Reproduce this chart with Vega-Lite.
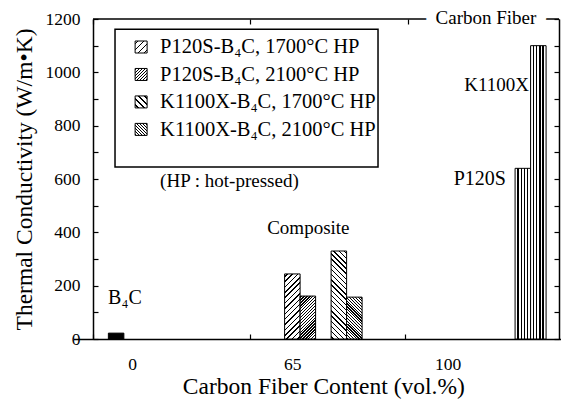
{
  "$schema": "https://vega.github.io/schema/vega-lite/v6.json",
  "width": 466,
  "height": 320,
  "autosize": {"type": "none"},
  "padding": {"left": 93, "top": 19, "right": 2, "bottom": 60},
  "background": "white",
  "config": {
    "view": {"stroke": null},
    "font": "Liberation Serif",
    "axis": {"domainColor": "black", "domainWidth": 1.5, "tickColor": "black", "tickWidth": 1.2, "labelColor": "black", "titleColor": "black", "labelFont": "Liberation Serif", "titleFont": "Liberation Serif", "titleFontWeight": "normal", "grid": false},
    "text": {"font": "Liberation Serif", "color": "black"}
  },
  "data": {"values": [
    {"content": "0", "sample": "B4C", "value": 22},
    {"content": "65", "sample": "P120S-B4C 1700", "value": 244},
    {"content": "65", "sample": "P120S-B4C 2100", "value": 161},
    {"content": "65", "sample": "K1100X-B4C 1700", "value": 330},
    {"content": "65", "sample": "K1100X-B4C 2100", "value": 157},
    {"content": "100", "sample": "P120S", "value": 640},
    {"content": "100", "sample": "K1100X", "value": 1100}
  ]},
  "resolve": {"axis": {"y": "independent", "x": "independent"}},
  "layer": [
    {
      "data": {"values": [{}]},
      "mark": {"type": "rule", "color": "black", "strokeWidth": 1.5},
      "encoding": {
        "y": {"datum": 1200, "type": "quantitative", "scale": {"domain": [0, 1200]},
          "axis": {"orient": "right", "values": [0,100,200,300,400,500,600,700,800,900,1000,1100,1200], "labels": false, "tickSize": -5, "title": null, "domain": true}}
      }
    },
    {
      "transform": [{"filter": "datum.sample == 'B4C'"}],
      "mark": {"type": "bar", "width": 15.5, "fill": "black", "stroke": "black", "strokeWidth": 1},
      "encoding": {
        "x": {"field": "content", "type": "nominal",
          "scale": {"domain": ["0", "65", "100"], "range": [-19.5, 480.2], "paddingInner": 0.5887, "paddingOuter": 0},
          "axis": {"orient": "bottom", "title": "Carbon Fiber Content (vol.%)", "titleFontSize": 23.5, "labelFontSize": 17.5, "labelAngle": 0, "ticks": true, "tickSize": -5, "labelPadding": 21, "titlePadding": 2,
            "tickOffset": {"expr": "datum.value == '0' ? -23 : datum.value == '65' ? -73.4 : -125.6"},
            "labelOffset": {"condition": [{"test": "datum.value == '0'", "value": 39}, {"test": "datum.value == '65'", "value": 42.4}], "value": 42.6}}},
        "xOffset": {"field": "sample", "type": "nominal",
          "scale": {"domain": ["s0", "P120S-B4C 1700", "s2", "P120S-B4C 2100", "P120S", "B4C", "K1100X", "K1100X-B4C 1700", "s8", "K1100X-B4C 2100", "s10"], "paddingInner": 0, "paddingOuter": 0}},
        "y": {"field": "value", "type": "quantitative", "scale": {"domain": [0, 1200]},
          "axis": {"orient": "left", "values": [0,100,200,300,400,500,600,700,800,900,1000,1100,1200], "format": "d", "labelExpr": "datum.value % 200 == 0 ? datum.label : ''", "tickSize": -5, "labelPadding": 18, "labelFontSize": 17.5, "labelOverlap": false, "title": "Thermal Conductivity (W/m•K)", "titleFontSize": 23.5, "titlePadding": 9}}
      }
    },
    {
      "transform": [{"filter": "datum.sample == 'P120S-B4C 1700'"}],
      "mark": {"type": "bar", "width": 15.5, "stroke": "black", "strokeWidth": 1,
        "fill": {"gradient": "linear", "x1": 0, "y1": 0, "x2": 0.279, "y2": 1.172, "stops": [
          {"offset": 0, "color": "#fff"},
          {"offset": 0.024, "color": "#fff"}, {"offset": 0.024, "color": "#000"}, {"offset": 0.043, "color": "#000"}, {"offset": 0.043, "color": "#fff"},
          {"offset": 0.091, "color": "#fff"}, {"offset": 0.091, "color": "#000"}, {"offset": 0.109, "color": "#000"}, {"offset": 0.109, "color": "#fff"},
          {"offset": 0.157, "color": "#fff"}, {"offset": 0.157, "color": "#000"}, {"offset": 0.176, "color": "#000"}, {"offset": 0.176, "color": "#fff"},
          {"offset": 0.224, "color": "#fff"}, {"offset": 0.224, "color": "#000"}, {"offset": 0.243, "color": "#000"}, {"offset": 0.243, "color": "#fff"},
          {"offset": 0.291, "color": "#fff"}, {"offset": 0.291, "color": "#000"}, {"offset": 0.309, "color": "#000"}, {"offset": 0.309, "color": "#fff"},
          {"offset": 0.357, "color": "#fff"}, {"offset": 0.357, "color": "#000"}, {"offset": 0.376, "color": "#000"}, {"offset": 0.376, "color": "#fff"},
          {"offset": 0.424, "color": "#fff"}, {"offset": 0.424, "color": "#000"}, {"offset": 0.443, "color": "#000"}, {"offset": 0.443, "color": "#fff"},
          {"offset": 0.491, "color": "#fff"}, {"offset": 0.491, "color": "#000"}, {"offset": 0.509, "color": "#000"}, {"offset": 0.509, "color": "#fff"},
          {"offset": 0.557, "color": "#fff"}, {"offset": 0.557, "color": "#000"}, {"offset": 0.576, "color": "#000"}, {"offset": 0.576, "color": "#fff"},
          {"offset": 0.624, "color": "#fff"}, {"offset": 0.624, "color": "#000"}, {"offset": 0.643, "color": "#000"}, {"offset": 0.643, "color": "#fff"},
          {"offset": 0.691, "color": "#fff"}, {"offset": 0.691, "color": "#000"}, {"offset": 0.709, "color": "#000"}, {"offset": 0.709, "color": "#fff"},
          {"offset": 0.757, "color": "#fff"}, {"offset": 0.757, "color": "#000"}, {"offset": 0.776, "color": "#000"}, {"offset": 0.776, "color": "#fff"},
          {"offset": 0.824, "color": "#fff"}, {"offset": 0.824, "color": "#000"}, {"offset": 0.843, "color": "#000"}, {"offset": 0.843, "color": "#fff"},
          {"offset": 0.891, "color": "#fff"}, {"offset": 0.891, "color": "#000"}, {"offset": 0.909, "color": "#000"}, {"offset": 0.909, "color": "#fff"},
          {"offset": 0.957, "color": "#fff"}, {"offset": 0.957, "color": "#000"}, {"offset": 0.976, "color": "#000"}, {"offset": 0.976, "color": "#fff"},
          {"offset": 1, "color": "#fff"}]}},
      "encoding": {
        "x": {"field": "content", "type": "nominal", "axis": null},
        "xOffset": {"field": "sample", "type": "nominal"},
        "y": {"field": "value", "type": "quantitative", "axis": null}
      }
    },
    {
      "transform": [{"filter": "datum.sample == 'P120S-B4C 2100'"}],
      "mark": {"type": "bar", "width": 15.5, "stroke": "black", "strokeWidth": 1,
        "fill": {"gradient": "linear", "x1": 0, "y1": 0, "x2": 0.435, "y2": 1.204, "stops": [
          {"offset": 0, "color": "#fff"},
          {"offset": 0.014, "color": "#fff"}, {"offset": 0.014, "color": "#000"}, {"offset": 0.036, "color": "#000"}, {"offset": 0.036, "color": "#fff"},
          {"offset": 0.064, "color": "#fff"}, {"offset": 0.064, "color": "#000"}, {"offset": 0.086, "color": "#000"}, {"offset": 0.086, "color": "#fff"},
          {"offset": 0.114, "color": "#fff"}, {"offset": 0.114, "color": "#000"}, {"offset": 0.136, "color": "#000"}, {"offset": 0.136, "color": "#fff"},
          {"offset": 0.164, "color": "#fff"}, {"offset": 0.164, "color": "#000"}, {"offset": 0.186, "color": "#000"}, {"offset": 0.186, "color": "#fff"},
          {"offset": 0.214, "color": "#fff"}, {"offset": 0.214, "color": "#000"}, {"offset": 0.236, "color": "#000"}, {"offset": 0.236, "color": "#fff"},
          {"offset": 0.264, "color": "#fff"}, {"offset": 0.264, "color": "#000"}, {"offset": 0.286, "color": "#000"}, {"offset": 0.286, "color": "#fff"},
          {"offset": 0.314, "color": "#fff"}, {"offset": 0.314, "color": "#000"}, {"offset": 0.336, "color": "#000"}, {"offset": 0.336, "color": "#fff"},
          {"offset": 0.364, "color": "#fff"}, {"offset": 0.364, "color": "#000"}, {"offset": 0.386, "color": "#000"}, {"offset": 0.386, "color": "#fff"},
          {"offset": 0.414, "color": "#fff"}, {"offset": 0.414, "color": "#000"}, {"offset": 0.436, "color": "#000"}, {"offset": 0.436, "color": "#fff"},
          {"offset": 0.464, "color": "#fff"}, {"offset": 0.464, "color": "#000"}, {"offset": 0.486, "color": "#000"}, {"offset": 0.486, "color": "#fff"},
          {"offset": 0.514, "color": "#fff"}, {"offset": 0.514, "color": "#000"}, {"offset": 0.536, "color": "#000"}, {"offset": 0.536, "color": "#fff"},
          {"offset": 0.564, "color": "#fff"}, {"offset": 0.564, "color": "#000"}, {"offset": 0.586, "color": "#000"}, {"offset": 0.586, "color": "#fff"},
          {"offset": 0.614, "color": "#fff"}, {"offset": 0.614, "color": "#000"}, {"offset": 0.636, "color": "#000"}, {"offset": 0.636, "color": "#fff"},
          {"offset": 0.664, "color": "#fff"}, {"offset": 0.664, "color": "#000"}, {"offset": 0.686, "color": "#000"}, {"offset": 0.686, "color": "#fff"},
          {"offset": 0.714, "color": "#fff"}, {"offset": 0.714, "color": "#000"}, {"offset": 0.736, "color": "#000"}, {"offset": 0.736, "color": "#fff"},
          {"offset": 0.764, "color": "#fff"}, {"offset": 0.764, "color": "#000"}, {"offset": 0.786, "color": "#000"}, {"offset": 0.786, "color": "#fff"},
          {"offset": 0.814, "color": "#fff"}, {"offset": 0.814, "color": "#000"}, {"offset": 0.836, "color": "#000"}, {"offset": 0.836, "color": "#fff"},
          {"offset": 0.864, "color": "#fff"}, {"offset": 0.864, "color": "#000"}, {"offset": 0.886, "color": "#000"}, {"offset": 0.886, "color": "#fff"},
          {"offset": 0.914, "color": "#fff"}, {"offset": 0.914, "color": "#000"}, {"offset": 0.936, "color": "#000"}, {"offset": 0.936, "color": "#fff"},
          {"offset": 0.964, "color": "#fff"}, {"offset": 0.964, "color": "#000"}, {"offset": 0.986, "color": "#000"}, {"offset": 0.986, "color": "#fff"},
          {"offset": 1, "color": "#fff"}]}},
      "encoding": {
        "x": {"field": "content", "type": "nominal", "axis": null},
        "xOffset": {"field": "sample", "type": "nominal"},
        "y": {"field": "value", "type": "quantitative", "axis": null}
      }
    },
    {
      "transform": [{"filter": "datum.sample == 'K1100X-B4C 1700'"}],
      "mark": {"type": "bar", "width": 15.5, "stroke": "black", "strokeWidth": 1,
        "fill": {"gradient": "linear", "x1": 0, "y1": 1, "x2": 0.201, "y2": -0.141, "stops": [
          {"offset": 0, "color": "#fff"},
          {"offset": 0.018, "color": "#fff"}, {"offset": 0.018, "color": "#000"}, {"offset": 0.032, "color": "#000"}, {"offset": 0.032, "color": "#fff"},
          {"offset": 0.068, "color": "#fff"}, {"offset": 0.068, "color": "#000"}, {"offset": 0.082, "color": "#000"}, {"offset": 0.082, "color": "#fff"},
          {"offset": 0.118, "color": "#fff"}, {"offset": 0.118, "color": "#000"}, {"offset": 0.132, "color": "#000"}, {"offset": 0.132, "color": "#fff"},
          {"offset": 0.168, "color": "#fff"}, {"offset": 0.168, "color": "#000"}, {"offset": 0.182, "color": "#000"}, {"offset": 0.182, "color": "#fff"},
          {"offset": 0.218, "color": "#fff"}, {"offset": 0.218, "color": "#000"}, {"offset": 0.232, "color": "#000"}, {"offset": 0.232, "color": "#fff"},
          {"offset": 0.268, "color": "#fff"}, {"offset": 0.268, "color": "#000"}, {"offset": 0.282, "color": "#000"}, {"offset": 0.282, "color": "#fff"},
          {"offset": 0.318, "color": "#fff"}, {"offset": 0.318, "color": "#000"}, {"offset": 0.332, "color": "#000"}, {"offset": 0.332, "color": "#fff"},
          {"offset": 0.368, "color": "#fff"}, {"offset": 0.368, "color": "#000"}, {"offset": 0.382, "color": "#000"}, {"offset": 0.382, "color": "#fff"},
          {"offset": 0.418, "color": "#fff"}, {"offset": 0.418, "color": "#000"}, {"offset": 0.432, "color": "#000"}, {"offset": 0.432, "color": "#fff"},
          {"offset": 0.468, "color": "#fff"}, {"offset": 0.468, "color": "#000"}, {"offset": 0.482, "color": "#000"}, {"offset": 0.482, "color": "#fff"},
          {"offset": 0.518, "color": "#fff"}, {"offset": 0.518, "color": "#000"}, {"offset": 0.532, "color": "#000"}, {"offset": 0.532, "color": "#fff"},
          {"offset": 0.568, "color": "#fff"}, {"offset": 0.568, "color": "#000"}, {"offset": 0.582, "color": "#000"}, {"offset": 0.582, "color": "#fff"},
          {"offset": 0.618, "color": "#fff"}, {"offset": 0.618, "color": "#000"}, {"offset": 0.632, "color": "#000"}, {"offset": 0.632, "color": "#fff"},
          {"offset": 0.668, "color": "#fff"}, {"offset": 0.668, "color": "#000"}, {"offset": 0.682, "color": "#000"}, {"offset": 0.682, "color": "#fff"},
          {"offset": 0.718, "color": "#fff"}, {"offset": 0.718, "color": "#000"}, {"offset": 0.732, "color": "#000"}, {"offset": 0.732, "color": "#fff"},
          {"offset": 0.768, "color": "#fff"}, {"offset": 0.768, "color": "#000"}, {"offset": 0.782, "color": "#000"}, {"offset": 0.782, "color": "#fff"},
          {"offset": 0.818, "color": "#fff"}, {"offset": 0.818, "color": "#000"}, {"offset": 0.832, "color": "#000"}, {"offset": 0.832, "color": "#fff"},
          {"offset": 0.868, "color": "#fff"}, {"offset": 0.868, "color": "#000"}, {"offset": 0.882, "color": "#000"}, {"offset": 0.882, "color": "#fff"},
          {"offset": 0.918, "color": "#fff"}, {"offset": 0.918, "color": "#000"}, {"offset": 0.932, "color": "#000"}, {"offset": 0.932, "color": "#fff"},
          {"offset": 0.968, "color": "#fff"}, {"offset": 0.968, "color": "#000"}, {"offset": 0.982, "color": "#000"}, {"offset": 0.982, "color": "#fff"},
          {"offset": 1, "color": "#fff"}]}},
      "encoding": {
        "x": {"field": "content", "type": "nominal", "axis": null},
        "xOffset": {"field": "sample", "type": "nominal"},
        "y": {"field": "value", "type": "quantitative", "axis": null}
      }
    },
    {
      "transform": [{"filter": "datum.sample == 'K1100X-B4C 2100'"}],
      "mark": {"type": "bar", "width": 15.5, "stroke": "black", "strokeWidth": 1,
        "fill": {"gradient": "linear", "x1": 0, "y1": 1, "x2": 0.446, "y2": -0.205, "stops": [
          {"offset": 0, "color": "#fff"},
          {"offset": 0.014, "color": "#fff"}, {"offset": 0.014, "color": "#000"}, {"offset": 0.036, "color": "#000"}, {"offset": 0.036, "color": "#fff"},
          {"offset": 0.064, "color": "#fff"}, {"offset": 0.064, "color": "#000"}, {"offset": 0.086, "color": "#000"}, {"offset": 0.086, "color": "#fff"},
          {"offset": 0.114, "color": "#fff"}, {"offset": 0.114, "color": "#000"}, {"offset": 0.136, "color": "#000"}, {"offset": 0.136, "color": "#fff"},
          {"offset": 0.164, "color": "#fff"}, {"offset": 0.164, "color": "#000"}, {"offset": 0.186, "color": "#000"}, {"offset": 0.186, "color": "#fff"},
          {"offset": 0.214, "color": "#fff"}, {"offset": 0.214, "color": "#000"}, {"offset": 0.236, "color": "#000"}, {"offset": 0.236, "color": "#fff"},
          {"offset": 0.264, "color": "#fff"}, {"offset": 0.264, "color": "#000"}, {"offset": 0.286, "color": "#000"}, {"offset": 0.286, "color": "#fff"},
          {"offset": 0.314, "color": "#fff"}, {"offset": 0.314, "color": "#000"}, {"offset": 0.336, "color": "#000"}, {"offset": 0.336, "color": "#fff"},
          {"offset": 0.364, "color": "#fff"}, {"offset": 0.364, "color": "#000"}, {"offset": 0.386, "color": "#000"}, {"offset": 0.386, "color": "#fff"},
          {"offset": 0.414, "color": "#fff"}, {"offset": 0.414, "color": "#000"}, {"offset": 0.436, "color": "#000"}, {"offset": 0.436, "color": "#fff"},
          {"offset": 0.464, "color": "#fff"}, {"offset": 0.464, "color": "#000"}, {"offset": 0.486, "color": "#000"}, {"offset": 0.486, "color": "#fff"},
          {"offset": 0.514, "color": "#fff"}, {"offset": 0.514, "color": "#000"}, {"offset": 0.536, "color": "#000"}, {"offset": 0.536, "color": "#fff"},
          {"offset": 0.564, "color": "#fff"}, {"offset": 0.564, "color": "#000"}, {"offset": 0.586, "color": "#000"}, {"offset": 0.586, "color": "#fff"},
          {"offset": 0.614, "color": "#fff"}, {"offset": 0.614, "color": "#000"}, {"offset": 0.636, "color": "#000"}, {"offset": 0.636, "color": "#fff"},
          {"offset": 0.664, "color": "#fff"}, {"offset": 0.664, "color": "#000"}, {"offset": 0.686, "color": "#000"}, {"offset": 0.686, "color": "#fff"},
          {"offset": 0.714, "color": "#fff"}, {"offset": 0.714, "color": "#000"}, {"offset": 0.736, "color": "#000"}, {"offset": 0.736, "color": "#fff"},
          {"offset": 0.764, "color": "#fff"}, {"offset": 0.764, "color": "#000"}, {"offset": 0.786, "color": "#000"}, {"offset": 0.786, "color": "#fff"},
          {"offset": 0.814, "color": "#fff"}, {"offset": 0.814, "color": "#000"}, {"offset": 0.836, "color": "#000"}, {"offset": 0.836, "color": "#fff"},
          {"offset": 0.864, "color": "#fff"}, {"offset": 0.864, "color": "#000"}, {"offset": 0.886, "color": "#000"}, {"offset": 0.886, "color": "#fff"},
          {"offset": 0.914, "color": "#fff"}, {"offset": 0.914, "color": "#000"}, {"offset": 0.936, "color": "#000"}, {"offset": 0.936, "color": "#fff"},
          {"offset": 0.964, "color": "#fff"}, {"offset": 0.964, "color": "#000"}, {"offset": 0.986, "color": "#000"}, {"offset": 0.986, "color": "#fff"},
          {"offset": 1, "color": "#fff"}]}},
      "encoding": {
        "x": {"field": "content", "type": "nominal", "axis": null},
        "xOffset": {"field": "sample", "type": "nominal"},
        "y": {"field": "value", "type": "quantitative", "axis": null}
      }
    },
    {
      "transform": [{"filter": "datum.content == '100'"}],
      "mark": {"type": "bar", "width": 15.5, "stroke": "black", "strokeWidth": 1,
        "fill": {"gradient": "linear", "x1": 0, "y1": 0, "x2": 1, "y2": 0, "stops": [
          {"offset": 0, "color": "#fff"},
          {"offset": 0.15, "color": "#fff"}, {"offset": 0.15, "color": "#000"}, {"offset": 0.24, "color": "#000"}, {"offset": 0.24, "color": "#fff"},
          {"offset": 0.36, "color": "#fff"}, {"offset": 0.36, "color": "#000"}, {"offset": 0.44, "color": "#000"}, {"offset": 0.44, "color": "#fff"},
          {"offset": 0.56, "color": "#fff"}, {"offset": 0.56, "color": "#000"}, {"offset": 0.64, "color": "#000"}, {"offset": 0.64, "color": "#fff"},
          {"offset": 0.76, "color": "#fff"}, {"offset": 0.76, "color": "#000"}, {"offset": 0.85, "color": "#000"}, {"offset": 0.85, "color": "#fff"},
          {"offset": 1, "color": "#fff"}]}},
      "encoding": {
        "x": {"field": "content", "type": "nominal", "axis": null},
        "xOffset": {"field": "sample", "type": "nominal"},
        "y": {"field": "value", "type": "quantitative", "axis": null}
      }
    },
    {
      "data": {"values": [{}]},
      "mark": {"type": "rect", "width": 263, "xOffset": 130.4, "fill": null, "stroke": "black", "strokeWidth": 1.5},
      "encoding": {
        "x": {"datum": "0", "type": "nominal",
          "axis": {"orient": "top", "labels": false, "domain": false, "title": null, "ticks": true, "tickSize": -5, "values": ["0", "65", "100"],
            "tickOffset": {"expr": "datum.value == '0' ? -23 : datum.value == '65' ? -73.4 : -122.6"}}},
        "y": {"datum": 1162, "type": "quantitative", "axis": null},
        "y2": {"datum": 645}
      }
    },
    {
      "data": {"values": [{}]},
      "mark": {"type": "square", "size": 144, "filled": true, "opacity": 1, "stroke": "black", "strokeWidth": 1, "xOffset": 25,
        "fill": {"gradient": "linear", "x1": 0, "y1": 0, "x2": 1, "y2": 1, "stops": [
          {"offset": 0, "color": "#fff"},
          {"offset": 0.09, "color": "#fff"}, {"offset": 0.09, "color": "#000"}, {"offset": 0.16, "color": "#000"}, {"offset": 0.16, "color": "#fff"},
          {"offset": 0.34, "color": "#fff"}, {"offset": 0.34, "color": "#000"}, {"offset": 0.41, "color": "#000"}, {"offset": 0.41, "color": "#fff"},
          {"offset": 0.59, "color": "#fff"}, {"offset": 0.59, "color": "#000"}, {"offset": 0.66, "color": "#000"}, {"offset": 0.66, "color": "#fff"},
          {"offset": 0.84, "color": "#fff"}, {"offset": 0.84, "color": "#000"}, {"offset": 0.91, "color": "#000"}, {"offset": 0.91, "color": "#fff"},
          {"offset": 1, "color": "#fff"}]}},
      "encoding": {
        "x": {"datum": "0", "type": "nominal", "axis": null},
        "y": {"datum": 1095, "type": "quantitative", "axis": null}
      }
    },
    {
      "data": {"values": [{}]},
      "mark": {"type": "square", "size": 144, "filled": true, "opacity": 1, "stroke": "black", "strokeWidth": 1, "xOffset": 25,
        "fill": {"gradient": "linear", "x1": 0, "y1": 0, "x2": 1, "y2": 1, "stops": [
          {"offset": 0, "color": "#fff"},
          {"offset": 0.034, "color": "#fff"}, {"offset": 0.034, "color": "#000"}, {"offset": 0.091, "color": "#000"}, {"offset": 0.091, "color": "#fff"},
          {"offset": 0.159, "color": "#fff"}, {"offset": 0.159, "color": "#000"}, {"offset": 0.216, "color": "#000"}, {"offset": 0.216, "color": "#fff"},
          {"offset": 0.284, "color": "#fff"}, {"offset": 0.284, "color": "#000"}, {"offset": 0.341, "color": "#000"}, {"offset": 0.341, "color": "#fff"},
          {"offset": 0.409, "color": "#fff"}, {"offset": 0.409, "color": "#000"}, {"offset": 0.466, "color": "#000"}, {"offset": 0.466, "color": "#fff"},
          {"offset": 0.534, "color": "#fff"}, {"offset": 0.534, "color": "#000"}, {"offset": 0.591, "color": "#000"}, {"offset": 0.591, "color": "#fff"},
          {"offset": 0.659, "color": "#fff"}, {"offset": 0.659, "color": "#000"}, {"offset": 0.716, "color": "#000"}, {"offset": 0.716, "color": "#fff"},
          {"offset": 0.784, "color": "#fff"}, {"offset": 0.784, "color": "#000"}, {"offset": 0.841, "color": "#000"}, {"offset": 0.841, "color": "#fff"},
          {"offset": 0.909, "color": "#fff"}, {"offset": 0.909, "color": "#000"}, {"offset": 0.966, "color": "#000"}, {"offset": 0.966, "color": "#fff"},
          {"offset": 1, "color": "#fff"}]}},
      "encoding": {
        "x": {"datum": "0", "type": "nominal", "axis": null},
        "y": {"datum": 992, "type": "quantitative", "axis": null}
      }
    },
    {
      "data": {"values": [{}]},
      "mark": {"type": "square", "size": 144, "filled": true, "opacity": 1, "stroke": "black", "strokeWidth": 1, "xOffset": 25,
        "fill": {"gradient": "linear", "x1": 0, "y1": 1, "x2": 1, "y2": 0, "stops": [
          {"offset": 0, "color": "#fff"},
          {"offset": 0.09, "color": "#fff"}, {"offset": 0.09, "color": "#000"}, {"offset": 0.16, "color": "#000"}, {"offset": 0.16, "color": "#fff"},
          {"offset": 0.34, "color": "#fff"}, {"offset": 0.34, "color": "#000"}, {"offset": 0.41, "color": "#000"}, {"offset": 0.41, "color": "#fff"},
          {"offset": 0.59, "color": "#fff"}, {"offset": 0.59, "color": "#000"}, {"offset": 0.66, "color": "#000"}, {"offset": 0.66, "color": "#fff"},
          {"offset": 0.84, "color": "#fff"}, {"offset": 0.84, "color": "#000"}, {"offset": 0.91, "color": "#000"}, {"offset": 0.91, "color": "#fff"},
          {"offset": 1, "color": "#fff"}]}},
      "encoding": {
        "x": {"datum": "0", "type": "nominal", "axis": null},
        "y": {"datum": 889, "type": "quantitative", "axis": null}
      }
    },
    {
      "data": {"values": [{}]},
      "mark": {"type": "square", "size": 144, "filled": true, "opacity": 1, "stroke": "black", "strokeWidth": 1, "xOffset": 25,
        "fill": {"gradient": "linear", "x1": 0, "y1": 1, "x2": 1, "y2": 0, "stops": [
          {"offset": 0, "color": "#fff"},
          {"offset": 0.034, "color": "#fff"}, {"offset": 0.034, "color": "#000"}, {"offset": 0.091, "color": "#000"}, {"offset": 0.091, "color": "#fff"},
          {"offset": 0.159, "color": "#fff"}, {"offset": 0.159, "color": "#000"}, {"offset": 0.216, "color": "#000"}, {"offset": 0.216, "color": "#fff"},
          {"offset": 0.284, "color": "#fff"}, {"offset": 0.284, "color": "#000"}, {"offset": 0.341, "color": "#000"}, {"offset": 0.341, "color": "#fff"},
          {"offset": 0.409, "color": "#fff"}, {"offset": 0.409, "color": "#000"}, {"offset": 0.466, "color": "#000"}, {"offset": 0.466, "color": "#fff"},
          {"offset": 0.534, "color": "#fff"}, {"offset": 0.534, "color": "#000"}, {"offset": 0.591, "color": "#000"}, {"offset": 0.591, "color": "#fff"},
          {"offset": 0.659, "color": "#fff"}, {"offset": 0.659, "color": "#000"}, {"offset": 0.716, "color": "#000"}, {"offset": 0.716, "color": "#fff"},
          {"offset": 0.784, "color": "#fff"}, {"offset": 0.784, "color": "#000"}, {"offset": 0.841, "color": "#000"}, {"offset": 0.841, "color": "#fff"},
          {"offset": 0.909, "color": "#fff"}, {"offset": 0.909, "color": "#000"}, {"offset": 0.966, "color": "#000"}, {"offset": 0.966, "color": "#fff"},
          {"offset": 1, "color": "#fff"}]}},
      "encoding": {
        "x": {"datum": "0", "type": "nominal", "axis": null},
        "y": {"datum": 786, "type": "quantitative", "axis": null}
      }
    },
    {
      "data": {"values": [{}]},
      "mark": {"type": "text", "text": ["P120S-B₄C, 1700°C HP", "P120S-B₄C, 2100°C HP", "K1100X-B₄C, 1700°C HP", "K1100X-B₄C, 2100°C HP"], "align": "left", "baseline": "middle", "lineHeight": 27.5, "fontSize": 20.5, "dx": 44},
      "encoding": {
        "x": {"datum": "0", "type": "nominal", "axis": null},
        "y": {"datum": 1095, "type": "quantitative", "axis": null}
      }
    },
    {
      "data": {"values": [{}]},
      "mark": {"type": "text", "text": "(HP : hot-pressed)", "align": "left", "baseline": "middle", "fontSize": 19, "dx": 44},
      "encoding": {
        "x": {"datum": "0", "type": "nominal", "axis": null},
        "y": {"datum": 592, "type": "quantitative", "axis": null}
      }
    },
    {
      "data": {"values": [{}]},
      "mark": {"type": "text", "text": "B₄C", "align": "left", "baseline": "middle", "fontSize": 20, "dx": -8},
      "encoding": {
        "x": {"datum": "0", "type": "nominal", "axis": null},
        "y": {"datum": 154, "type": "quantitative", "axis": null}
      }
    },
    {
      "data": {"values": [{}]},
      "mark": {"type": "text", "text": "Composite", "align": "center", "baseline": "middle", "fontSize": 19, "dx": -15},
      "encoding": {
        "x": {"datum": "65", "type": "nominal", "axis": null},
        "y": {"datum": 416, "type": "quantitative", "axis": null}
      }
    },
    {
      "data": {"values": [{}]},
      "mark": {"type": "text", "text": "P120S", "align": "right", "baseline": "middle", "fontSize": 20, "dx": -24.6},
      "encoding": {
        "x": {"datum": "100", "type": "nominal", "axis": null},
        "y": {"datum": 600, "type": "quantitative", "axis": null}
      }
    },
    {
      "data": {"values": [{}]},
      "mark": {"type": "text", "text": "K1100X", "align": "right", "baseline": "middle", "fontSize": 19, "dx": -1.6},
      "encoding": {
        "x": {"datum": "100", "type": "nominal", "axis": null},
        "y": {"datum": 952, "type": "quantitative", "axis": null}
      }
    },
    {
      "data": {"values": [{}]},
      "mark": {"type": "text", "text": "Carbon Fiber", "align": "center", "baseline": "middle", "fontSize": 19, "dx": -44.6, "dy": -1, "fill": "white", "stroke": "white", "strokeWidth": 20, "strokeJoin": "round"},
      "encoding": {
        "x": {"datum": "100", "type": "nominal", "axis": null},
        "y": {"datum": 1200, "type": "quantitative", "axis": null}
      }
    },
    {
      "data": {"values": [{}]},
      "mark": {"type": "text", "text": "Carbon Fiber", "align": "center", "baseline": "middle", "fontSize": 19, "dx": -44.6, "dy": -1},
      "encoding": {
        "x": {"datum": "100", "type": "nominal", "axis": null},
        "y": {"datum": 1200, "type": "quantitative", "axis": null}
      }
    }
  ]
}
